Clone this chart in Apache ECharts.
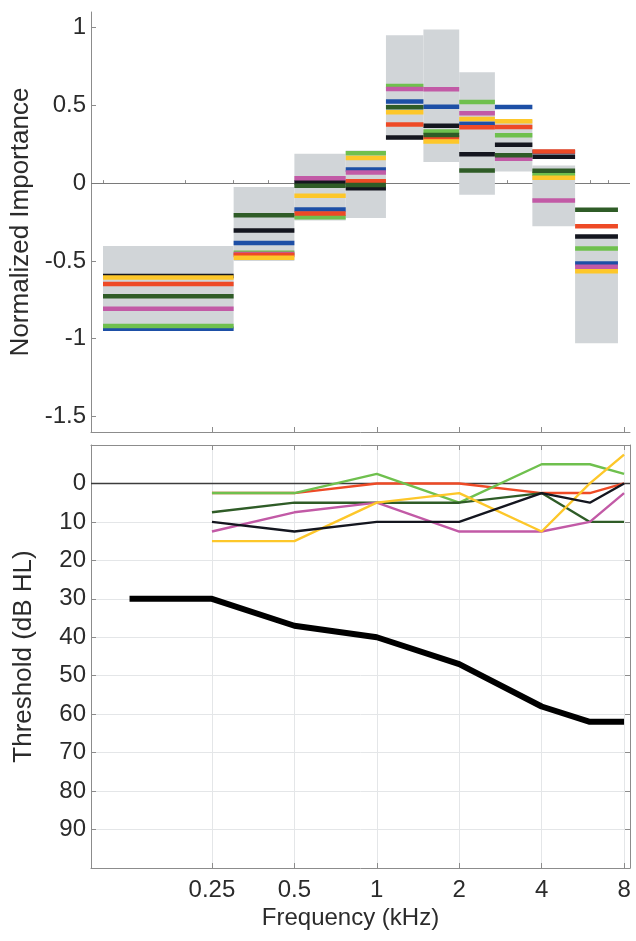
<!DOCTYPE html>
<html>
<head>
<meta charset="utf-8">
<style>
  html, body { margin: 0; padding: 0; background: #fff; }
  #chart { width: 636px; height: 941px; }
</style>
<script src="https://cdn.jsdelivr.net/npm/echarts@6/dist/echarts.min.js"></script>
</head>
<body>
<div id="chart"></div>
<script>
// Frequency axis (kHz)
const freqMin = 0.0904;
const freqMax = 8.41;
const freqTicks = [0.25, 0.5, 1, 2, 4, 8];
const freqMinorTicks = [0.1, 0.2, 0.3, 0.4, 0.6, 0.7, 0.8, 0.9, 3, 5, 6, 7];

// Importance panel: frequency bands and the spread across listeners
const bandEdges = [0.1, 0.3, 0.5, 0.77, 1.08, 1.48, 2.0, 2.7, 3.7, 5.3, 7.6];
const rangeLow  = [-0.94, -0.5, -0.24, -0.225, 0.28, 0.135, -0.075, 0.075, -0.278, -1.03];
const rangeHigh = [-0.405, -0.025, 0.188, 0.21, 0.951, 0.987, 0.712, 0.406, 0.113, -0.335];

// Per-listener importance weights, one value per band
const impBlue       = [-0.937, -0.385, -0.169, 0.087, 0.524, 0.491, 0.382, 0.489, 0.2, -0.517];
const impBlack      = [-0.597, -0.304, 0.006, -0.033, 0.293, 0.368, 0.186, 0.246, 0.169, -0.344];
const impLightGreen = [-0.919, -0.448, -0.22, 0.192, 0.624, 0.331, 0.521, 0.308, 0.06, -0.42];
const impPink       = [-0.808, -0.456, 0.032, 0.068, 0.605, 0.603, 0.449, 0.156, -0.111, -0.537];
const impRed        = [-0.648, -0.462, -0.195, 0.012, 0.376, 0.293, 0.359, 0.361, 0.203, -0.278];
const impYellow     = [-0.607, -0.48, -0.081, 0.162, 0.455, 0.267, 0.412, 0.397, 0.034, -0.566];
const impDarkGreen  = [-0.727, -0.207, -0.017, -0.012, 0.487, 0.31, 0.081, 0.179, 0.079, -0.172];

// Audiogram panel
const audFreqs = [0.25, 0.5, 1, 2, 4, 6, 8];
const thrRed        = [2.5, 2.5, 0, 0, 2.5, 2.5, 0];
const thrLightGreen = [2.5, 2.5, -2.5, 5, -5, -5, -2.5];
const thrDarkGreen  = [7.5, 5, 5, 5, 2.5, 10, 10];
const thrPink       = [12.5, 7.5, 5, 12.5, 12.5, 10, 2.5];
const thrYellow     = [15, 15, 5, 2.5, 12.5, 0, -7.5];
const thrBlack      = [10, 12.5, 10, 10, 2.5, 5, 0];
const hiFreqs = [0.125, 0.25, 0.5, 1, 2, 4, 6, 8];
const thrHearingLoss = [30, 30, 37, 40, 47, 58, 62, 62];

const impTicks = [-1.5, -1, -0.5, 0, 0.5, 1];
const thrTicks = [0, 10, 20, 30, 40, 50, 60, 70, 80, 90];

const COLORS = {
  blue: '#1d4fa6',
  black: '#14161f',
  lightGreen: '#6fc04e',
  pink: '#c25aa6',
  red: '#ee4a26',
  yellow: '#fdc72a',
  darkGreen: '#2f5c27',
  box: '#d1d5d8'
};

const FONT = "'Liberation Sans', Arial, Helvetica, sans-serif";
const TEXT = '#2b2b2b';
const AXIS = '#8c8c8c';
const TICK_SIZE = 24;
const YNAME_SIZE = 26;
const XNAME_SIZE = 24;
const lg = Math.log10;
const fmtFreq = v => String(parseFloat(Math.pow(10, v).toPrecision(6)));

const bandData = rangeLow.map((lo, i) => [lg(bandEdges[i]), lg(bandEdges[i + 1]), lo, rangeHigh[i]]);

function renderBox(params, api) {
  const a = api.coord([api.value(0), api.value(3)]);
  const b = api.coord([api.value(1), api.value(2)]);
  return {
    type: 'rect',
    shape: { x: a[0], y: a[1], width: b[0] - a[0], height: b[1] - a[1] },
    style: { fill: COLORS.box }
  };
}

const BAR_H = 4.5;
function renderBar(color) {
  return function (params, api) {
    const a = api.coord([api.value(0), api.value(2)]);
    const b = api.coord([api.value(1), api.value(2)]);
    return {
      type: 'rect',
      shape: { x: a[0], y: a[1] - BAR_H / 2, width: b[0] - a[0], height: BAR_H },
      style: { fill: color }
    };
  };
}

function bandSeries(values, color) {
  return {
    type: 'custom',
    xAxisIndex: 0,
    yAxisIndex: 0,
    renderItem: renderBar(color),
    encode: { x: [0, 1], y: 2 },
    data: values.map((v, i) => [lg(bandEdges[i]), lg(bandEdges[i + 1]), v]),
    z: 3,
    silent: true
  };
}

function thrSeries(freqs, values, color, width, z) {
  return {
    type: 'line',
    xAxisIndex: 2,
    yAxisIndex: 1,
    data: freqs.map((f, i) => [lg(f), values[i]]),
    showSymbol: false,
    symbol: 'none',
    lineStyle: { color: color, width: width },
    itemStyle: { color: color },
    z: z,
    silent: true,
    animation: false
  };
}

const xCommon = {
  type: 'value',
  min: lg(freqMin),
  max: lg(freqMax),
  splitLine: { show: false },
  axisLine: { onZero: false, lineStyle: { color: AXIS, width: 1 } }
};

const option = {
  animation: false,
  backgroundColor: '#ffffff',
  textStyle: { fontFamily: FONT },
  grid: [
    { left: 91, top: 12, width: 539, height: 420, outerBoundsMode: 'none', containLabel: false },
    { left: 91, top: 445, width: 539, height: 423, outerBoundsMode: 'none', containLabel: false }
  ],
  xAxis: [
    Object.assign({}, xCommon, {
      gridIndex: 0, position: 'bottom',
      axisTick: { inside: true, length: 5, lineStyle: { color: AXIS }, customValues: freqTicks.map(lg) },
      axisLabel: { show: false }
    }),
    Object.assign({}, xCommon, {
      gridIndex: 0, position: 'bottom',
      axisLine: { show: false },
      axisTick: { inside: true, length: 3, lineStyle: { color: AXIS }, customValues: freqMinorTicks.map(lg) },
      axisLabel: { show: false }
    }),
    Object.assign({}, xCommon, {
      gridIndex: 1, position: 'bottom',
      name: 'Frequency (kHz)',
      nameLocation: 'middle',
      nameGap: 38,
      nameTextStyle: { fontSize: XNAME_SIZE, color: TEXT, fontFamily: FONT, padding: [0, 20, 0, 0] },
      axisTick: { inside: true, length: 5, lineStyle: { color: AXIS }, customValues: freqTicks.map(lg) },
      axisLabel: {
        customValues: freqTicks.map(lg),
        formatter: fmtFreq,
        fontSize: TICK_SIZE, color: TEXT, fontFamily: FONT, margin: 10
      },
      splitLine: { show: true, lineStyle: { color: '#e4e6e8', width: 1 } }
    }),
    Object.assign({}, xCommon, {
      gridIndex: 1, position: 'top',
      axisTick: { inside: true, length: 5, lineStyle: { color: AXIS }, customValues: freqTicks.map(lg) },
      axisLabel: { show: false }
    })
  ],
  yAxis: [
    {
      type: 'value', gridIndex: 0, min: -1.6, max: 1.1,
      name: 'Normalized Importance',
      nameLocation: 'middle',
      nameGap: 54,
      nameTextStyle: { fontSize: YNAME_SIZE, color: TEXT, fontFamily: FONT },
      axisLine: { show: true, onZero: false, lineStyle: { color: AXIS } },
      axisTick: { show: true, inside: true, length: 5, lineStyle: { color: AXIS }, customValues: impTicks },
      axisLabel: { customValues: impTicks, fontSize: TICK_SIZE, color: TEXT, fontFamily: FONT, margin: 5 },
      splitLine: { show: false }
    },
    {
      type: 'value', gridIndex: 1, min: -10, max: 100, inverse: true,
      name: 'Threshold (dB HL)',
      nameLocation: 'middle',
      nameGap: 54,
      nameTextStyle: { fontSize: YNAME_SIZE, color: TEXT, fontFamily: FONT },
      axisLine: { show: true, onZero: false, lineStyle: { color: AXIS } },
      axisTick: { show: true, inside: true, length: 5, lineStyle: { color: AXIS }, customValues: thrTicks },
      axisLabel: { customValues: thrTicks, fontSize: TICK_SIZE, color: TEXT, fontFamily: FONT, margin: 5 },
      splitLine: { show: true, lineStyle: { color: '#e4e6e8', width: 1 } }
    },
    {
      type: 'value', gridIndex: 1, min: -10, max: 100, inverse: true, position: 'right',
      axisLine: { show: true, onZero: false, lineStyle: { color: AXIS } },
      axisTick: { show: true, inside: true, length: 5, lineStyle: { color: AXIS }, customValues: thrTicks },
      axisLabel: { show: false },
      splitLine: { show: false }
    }
  ],
  series: [
    {
      type: 'custom',
      xAxisIndex: 0,
      yAxisIndex: 0,
      renderItem: renderBox,
      encode: { x: [0, 1], y: [2, 3] },
      data: bandData,
      z: 2,
      silent: true,
      markLine: {
        silent: true,
        symbol: 'none',
        label: { show: false },
        lineStyle: { color: '#7a7a7a', width: 1, type: 'solid' },
        data: [{ yAxis: 0 }],
        z: 1
      }
    },
    bandSeries(impBlue, COLORS.blue),
    bandSeries(impBlack, COLORS.black),
    bandSeries(impLightGreen, COLORS.lightGreen),
    bandSeries(impPink, COLORS.pink),
    bandSeries(impRed, COLORS.red),
    bandSeries(impYellow, COLORS.yellow),
    bandSeries(impDarkGreen, COLORS.darkGreen),

    Object.assign(thrSeries(audFreqs, thrRed, COLORS.red, 2.4, 3), {
      markLine: {
        silent: true,
        symbol: 'none',
        label: { show: false },
        lineStyle: { color: '#3c3c3c', width: 1.3, type: 'solid' },
        data: [{ yAxis: 0 }],
        z: 2
      }
    }),
    thrSeries(audFreqs, thrLightGreen, COLORS.lightGreen, 2.4, 3),
    thrSeries(audFreqs, thrDarkGreen, COLORS.darkGreen, 2.4, 3),
    thrSeries(audFreqs, thrPink, COLORS.pink, 2.4, 3),
    thrSeries(audFreqs, thrYellow, COLORS.yellow, 2.4, 3),
    thrSeries(audFreqs, thrBlack, COLORS.black, 2.4, 3),
    thrSeries(hiFreqs, thrHearingLoss, '#000000', 6, 4)
  ]
};

const chart = echarts.init(document.getElementById('chart'), null, { renderer: 'canvas' });
chart.setOption(option);
</script>
</body>
</html>
